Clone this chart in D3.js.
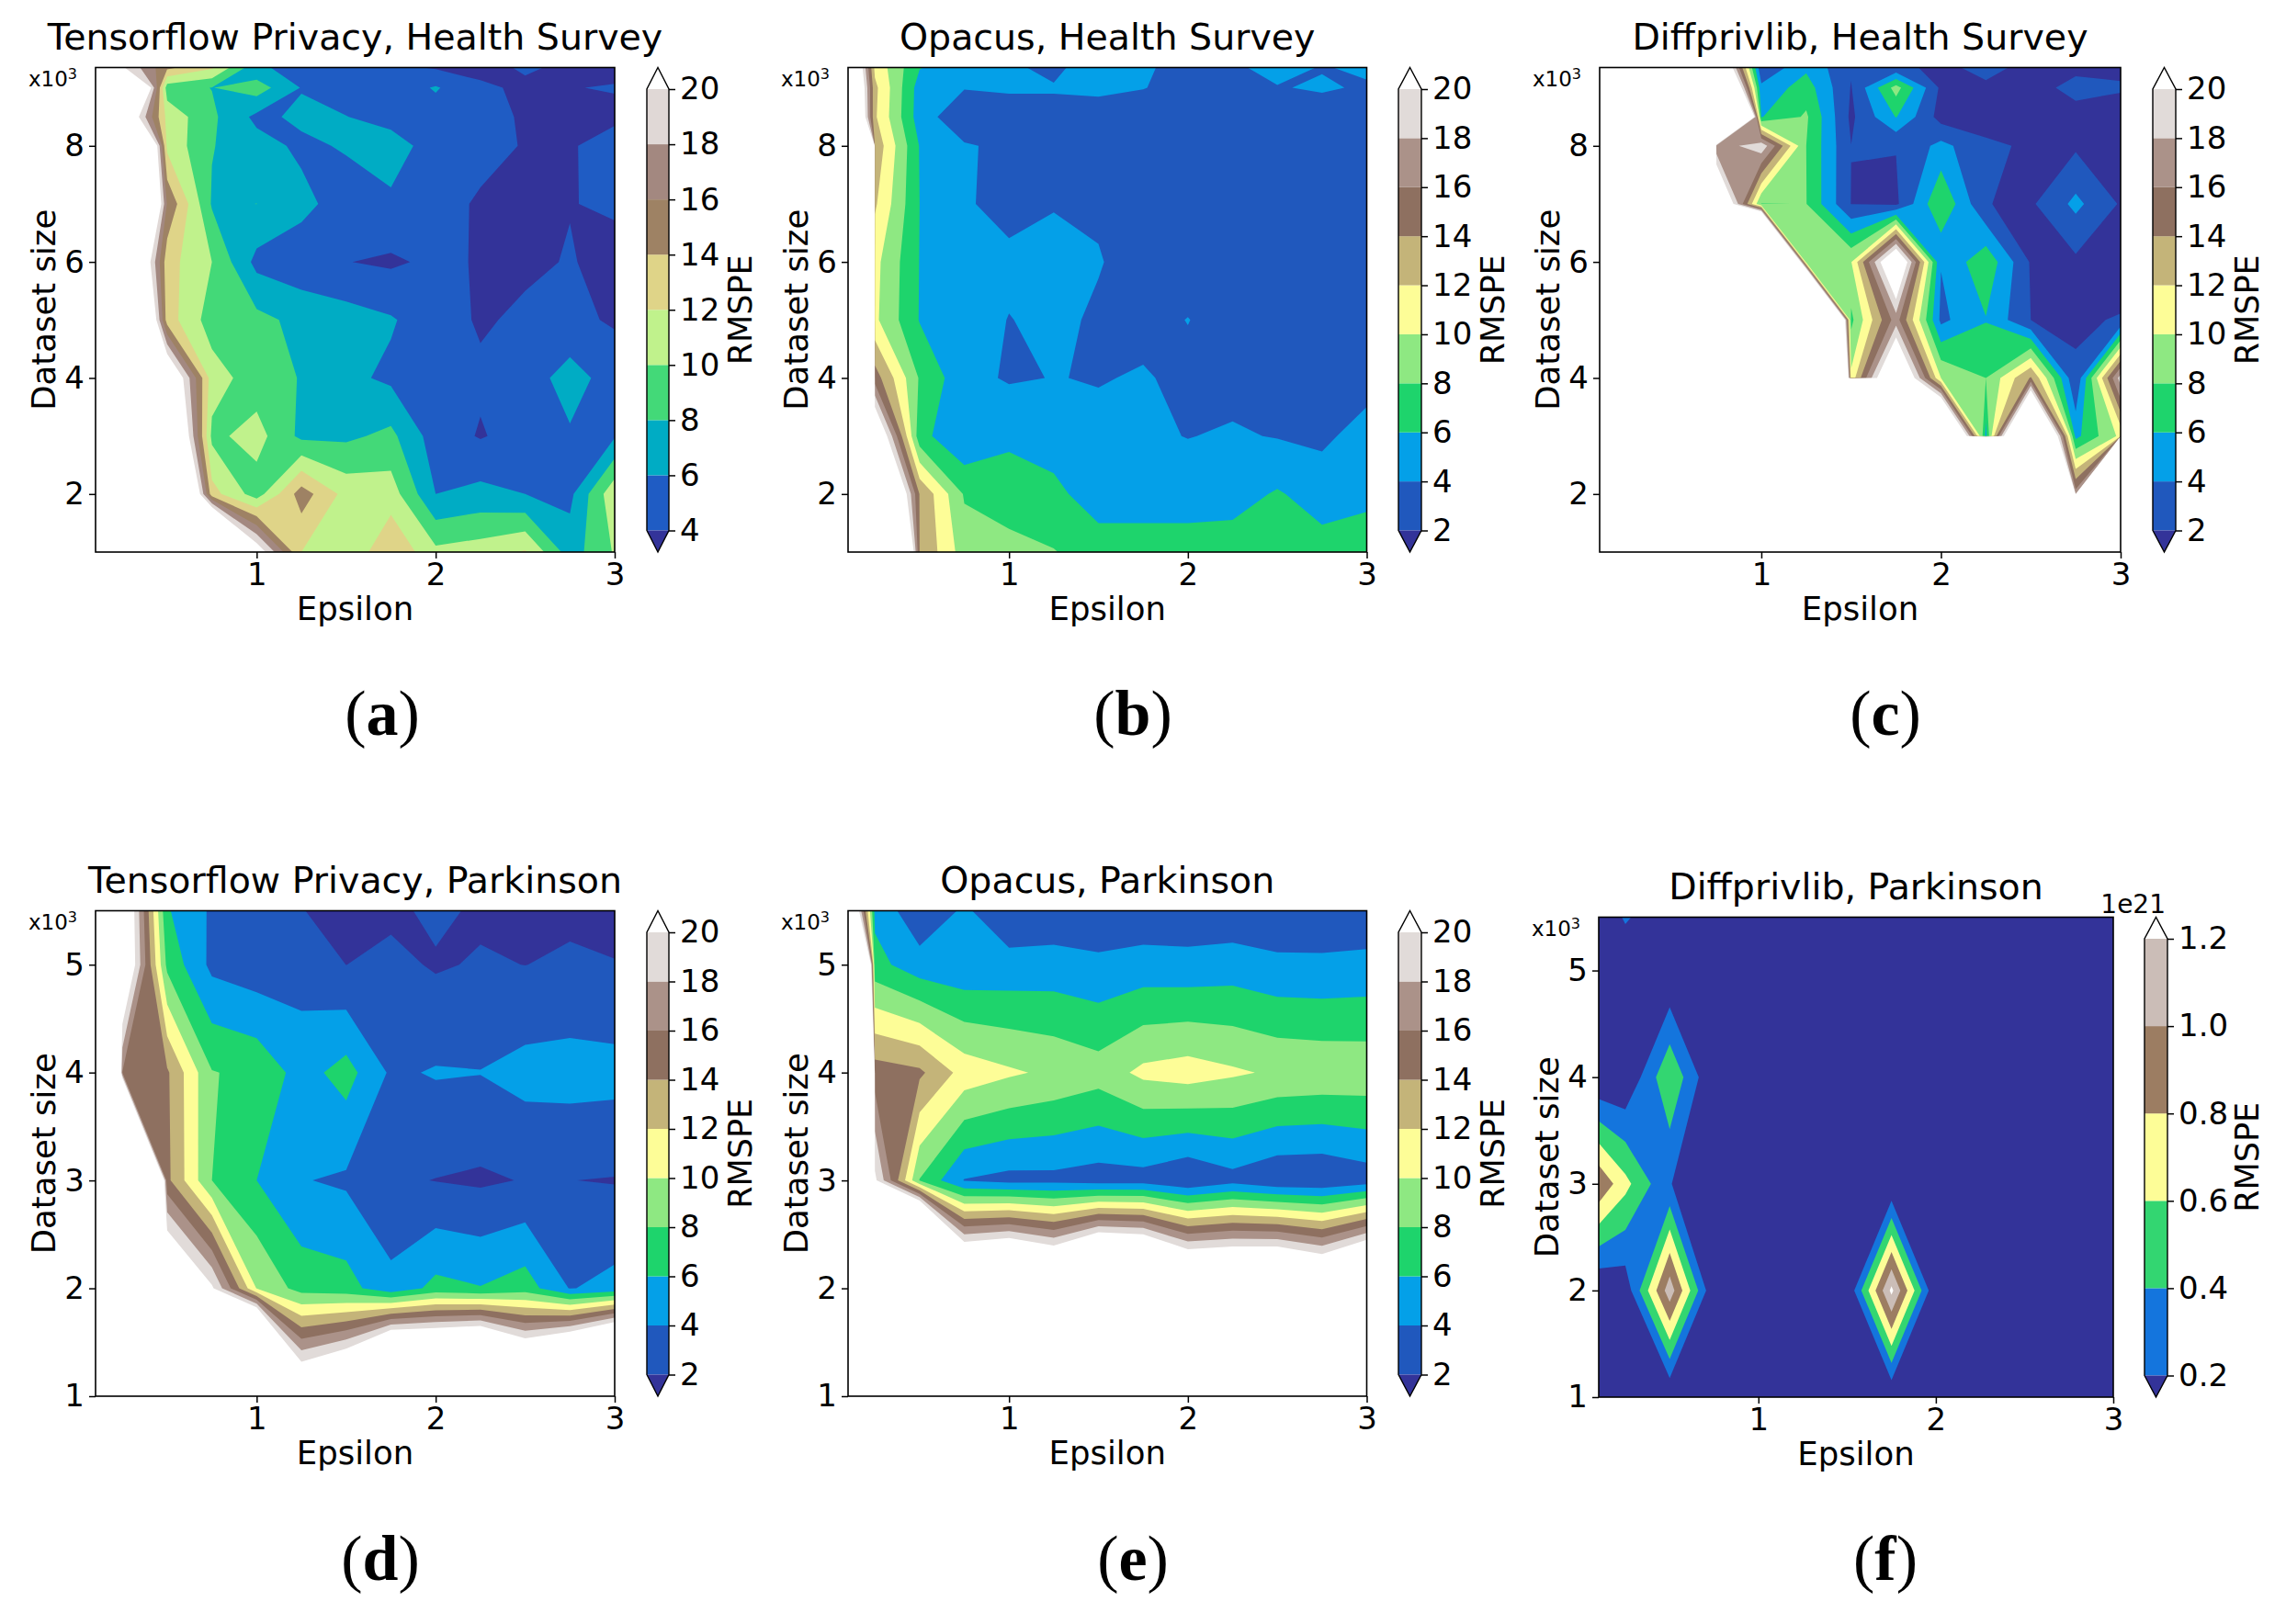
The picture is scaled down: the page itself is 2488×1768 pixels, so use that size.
<!DOCTYPE html>
<html>
<head>
<meta charset="utf-8">
<script src="https://cdn.jsdelivr.net/npm/d3@7"></script>
<style>
  html, body { margin: 0; padding: 0; background: #fff; }
  text { font-family: "DejaVu Sans", sans-serif; fill: #000; }
</style>
</head>
<body>
<svg id="chart" width="2488" height="1768"></svg>
<script>
// Grid of the runs: columns are epsilon, rows are dataset size (x1000), smallest size first
var epsilons = [0.1, 0.25, 0.5, 0.75, 1, 1.25, 1.5, 1.75, 2, 2.25, 2.5, 2.75, 3];
var healthSizes = [1, 2, 3, 4, 5, 6, 7, 8, 8.5, 9, 9.35];
var parkinsonSizes = [1, 2, 3, 4, 5, 5.5];

// runs that blew up, far above the top level
var H = 1000;

var tfHealth = [
  [60,60,60,45,22,12,10.2,13.8,10.5,11,12.2,7,10.2],
  [60,60,40,12.8,9,15,11.3,11,6,6.6,6,5.5,11.5],
  [60,60,30,9.5,10.8,7.5,7.6,8.5,5,3.85,4.8,5.75,5.8],
  [60,60,25,11,8.9,7.9,6.5,5.6,4.8,4.3,4.9,6.9,5],
  [60,42,13,9,8.6,7.4,6.9,6.2,4.8,3.8,4.3,4.4,3.8],
  [60,32,12.8,10,5.4,4.7,4.05,3.7,4.4,3.85,3.7,4.1,3.5],
  [60,48,15.8,7.8,8.01,6.6,5,5.6,4.6,3.8,3.6,3.95,4.2],
  [60,50,11.5,8.1,6.8,5.6,6.2,7,5,4.5,3.9,3.8,4.9],
  [60,25,11.4,8.4,5.5,6.4,6.05,5.2,5,4.6,3.8,3.6,3.6],
  [60,40,8.9,7.95,9,5.9,5,4.7,6.2,4.3,3.7,3.95,4.1],
  [30,20.3,14.5,12.3,6.5,4.9,4.6,4.5,3.8,3.5,4.2,3.7,3.6]
];
var opacusHealth = [
  [H,60,14,9,8.8,8.1,7,6.9,7,7,7,6.8,6.9],
  [H,35,13.9,7.8,6.8,6.5,5,5.1,5,5.2,6.2,5.1,5.6],
  [H,25,6.7,4.2,5.7,5.1,4.5,4.3,3.95,4.2,3.9,3.6,4.8],
  [H,15,7.8,4.6,3.8,4.05,3.9,4.15,3.6,3.4,3.4,3.3,3.2],
  [H,10.4,5.9,4.8,3.95,4.4,3.75,3.5,4.04,3.3,3.2,3.1,3],
  [H,10.6,5.95,4.9,4.4,4.7,4.1,3.3,3.2,3.1,3,3,3],
  [H,12.3,6,4.2,3.42,3.88,3.78,3.3,3.2,3.1,3,3,3],
  [H,13.5,5.9,4.2,3.57,3.4,3.2,3.1,3.1,3.1,3,3,3],
  [34,12.3,5,2.5,3.2,3.2,3.1,3.1,3,3,3,3,3],
  [32,12.5,5.1,4.1,4.2,4.2,4.4,4.05,3.5,3.7,3.9,4.2,3.8],
  [30,11.5,6.1,4.8,4.4,3.4,5.5,4.2,3.5,3.7,4.6,3.9,4.3]
];
var diffHealth = [
  [H,H,H,H,H,H,H,H,H,H,H,H,H],
  [H,H,H,H,H,H,H,H,H,H,H,17,H],
  [H,H,H,H,H,H,H,H,40,5.4,42,5.4,10.5],
  [H,H,H,99,99,165,10.5,27,10,8,14.2,2.1,19],
  [H,H,H,99,99,99,7.5,17,3.5,5.9,2,1.9,2.05],
  [H,H,H,99,99,9,9.9,25.4,4.1,7.5,1.8,1.6,1.6],
  [H,H,H,27.4,7.9,8.05,1.95,1.6,7.9,2.05,1.7,4.5,1.8],
  [H,H,H,16.5,19.5,8,2.02,2.08,4.6,2.4,1.7,1.7,1.8],
  [H,H,H,99,5.9,8.3,1.6,6.1,1.2,1,1.5,1.5,1.5],
  [H,H,H,40,4.5,7,1.9,8.8,1.6,1.7,1.5,2.4,2.1],
  [H,H,H,30,2.2,5.6,2.2,2.4,1.6,2.5,1.5,1.7,1.8]
];
var tfParkinson = [
  [99,99,99,99,67,26,30.4,44.6,43,46,35,44,54],
  [99,99,26.4,20.4,9.9,7.2,6.8,4.6,6.6,6.1,7,3.9,4.6],
  [99,99,14.5,8,6,4.1,3.7,2.3,1.95,1.7,2.1,2.02,1.9],
  [99,15.9,14.3,8.1,7.5,5.2,6.8,3.7,4.15,4.05,4.7,4.8,4.7],
  [99,25,7.5,3.5,2.8,3.1,1.99,2.5,1.8,2.18,1.98,2.3,2.05],
  [99,25,6.2,3.7,3.1,2.05,1.5,1.6,2.4,1.7,1.6,1.6,1.6]
];
var opacusParkinson = [
  [H,99,99,99,99,99,99,99,99,99,99,99,99],
  [H,99,73,32.2,34.6,30.9,38.3,37,30.2,30.6,31.2,28.3,33.9],
  [H,20.5,7.9,3.9,3.35,3.42,3.04,3.1,2.07,3.26,2.26,2.18,2.94],
  [H,15,14.4,11.2,10.3,9.6,8.88,10.49,10.95,10.3,9.7,9.5,9.4],
  [99,6.7,4.8,4.4,4.64,4.82,4.42,4.82,4.7,4.97,4.42,4.39,4.57],
  [30,5.5,2.5,4.3,2.6,2.6,2.6,2.6,2.6,2.6,2.6,2.6,2.6]
];
// this one is in units of 1e21
var diffParkinson = [
  [0,0,0,0,0,0,0,0,0,0,0,0,0],
  [0,0.06,1.12,0,0,0,0,1.25,0,0,0,0,0],
  [0.97,0.66,0.21,0,0,0,0,0,0,0,0,0,0],
  [0,0,0.58,0,0,0,0,0,0,0,0,0,0],
  [0,0,0,0,0,0,0,0,0,0,0,0,0],
  [0,0.23,0,0,0,0,0,0,0,0,0,0,0]
];

// contour levels and the band colours (first = below lowest level, last = above top level)
var levels4to20 = [4, 6, 8, 10, 12, 14, 16, 18, 20];
var levels2to20 = [2, 4, 6, 8, 10, 12, 14, 16, 18, 20];
var levelsE21 = [0.2, 0.4, 0.6, 0.8, 1.0, 1.2];

var colors4to20 = ["#333399", "#1f5cc4", "#00acc4", "#43d978", "#c0f28c", "#dfd488", "#9e8264", "#a38880", "#e0d8d6", "#ffffff"];
var colors2to20 = ["#333399", "#2058bd", "#04a0e8", "#1ed46c", "#8ee882", "#fdfd97", "#c4b479", "#8e7060", "#ab9289", "#e1dbd9", "#ffffff"];
var colorsE21 = ["#333399", "#1475dd", "#33d671", "#fdfd97", "#9c7d62", "#cbbdb7", "#ffffff"];

var panels = [
  { title: "Tensorflow Privacy, Health Survey", tag: "a", grid: tfHealth, sizes: healthSizes, sizeTicks: [2, 4, 6, 8],
    levels: levels4to20, colors: colors4to20, px: [104, 669], py: [73.5, 601], cb: [704, 728], tagX: 416, tagY: 800 },
  { title: "Opacus, Health Survey", tag: "b", grid: opacusHealth, sizes: healthSizes, sizeTicks: [2, 4, 6, 8],
    levels: levels2to20, colors: colors2to20, px: [923, 1487.5], py: [73.5, 601], cb: [1522, 1547], tagX: 1233, tagY: 800 },
  { title: "Diffprivlib, Health Survey", tag: "c", grid: diffHealth, sizes: healthSizes, sizeTicks: [2, 4, 6, 8],
    levels: levels2to20, colors: colors2to20, px: [1741, 2308], py: [73.5, 601], cb: [2343, 2368], tagX: 2052, tagY: 800 },
  { title: "Tensorflow Privacy, Parkinson", tag: "d", grid: tfParkinson, sizes: parkinsonSizes, sizeTicks: [1, 2, 3, 4, 5],
    levels: levels2to20, colors: colors2to20, px: [104, 669], py: [991.5, 1520], cb: [704, 728], tagX: 414, tagY: 1720 },
  { title: "Opacus, Parkinson", tag: "e", grid: opacusParkinson, sizes: parkinsonSizes, sizeTicks: [1, 2, 3, 4, 5],
    levels: levels2to20, colors: colors2to20, px: [923, 1487.5], py: [991.5, 1520], cb: [1522, 1547], tagX: 1233, tagY: 1720 },
  { title: "Diffprivlib, Parkinson", tag: "f", grid: diffParkinson, sizes: parkinsonSizes, sizeTicks: [1, 2, 3, 4, 5],
    levels: levelsE21, colors: colorsE21, px: [1740, 2300], py: [998.5, 1521], cb: [2334, 2359], tagX: 2052, tagY: 1720, offset: "1e21" }
];

var svg = d3.select("#chart");

panels.forEach(function(p, i) {
  var x = d3.scaleLinear().domain([0.1, 3]).range(p.px);
  var y = d3.scaleLinear().domain([1, d3.max(p.sizes)]).range([p.py[1], p.py[0]]);

  var g = svg.append("g");

  g.append("clipPath").attr("id", "clip" + i)
    .append("rect")
    .attr("x", p.px[0]).attr("y", p.py[0])
    .attr("width", p.px[1] - p.px[0]).attr("height", p.py[1] - p.py[0]);

  // d3.contours works in cell units, grid value k sits at k + 0.5, so map that back to epsilon / size
  var colIndex = d3.scaleLinear().domain(epsilons.map(function(d, k) { return k + 0.5; })).range(epsilons);
  var rowIndex = d3.scaleLinear().domain(p.sizes.map(function(d, k) { return k + 0.5; })).range(p.sizes);

  var path = d3.geoPath(d3.geoTransform({
    point: function(cx, cy) { this.stream.point(x(colIndex(cx)), y(rowIndex(cy))); }
  }));

  var flat = [].concat.apply([], p.grid);
  var thresholds = [-1e6].concat(p.levels);
  var contours = d3.contours()
    .size([epsilons.length, p.sizes.length])
    .thresholds(thresholds)
    .smooth(true)(flat);

  // nested filled regions, lowest first
  g.append("g").attr("clip-path", "url(#clip" + i + ")")
    .selectAll("path")
    .data(contours)
    .enter().append("path")
    .attr("d", path)
    .attr("fill", function(d, k) { return p.colors[k]; });

  // axes
  var xAxis = d3.axisBottom(x).tickValues([1, 2, 3]).tickFormat(d3.format("d")).tickSize(7).tickPadding(5);
  var yAxis = d3.axisLeft(y).tickValues(p.sizeTicks).tickFormat(d3.format("d")).tickSize(7).tickPadding(5);

  var ax = g.append("g").attr("transform", "translate(0," + p.py[1] + ")").call(xAxis);
  var ay = g.append("g").attr("transform", "translate(" + p.px[0] + ",0)").call(yAxis);
  [ax, ay].forEach(function(a) {
    a.select(".domain").remove();
    a.selectAll("line").attr("stroke", "#000").attr("stroke-width", 1.5);
    a.selectAll("text").attr("font-size", 34);
  });

  g.append("rect")
    .attr("x", p.px[0]).attr("y", p.py[0])
    .attr("width", p.px[1] - p.px[0]).attr("height", p.py[1] - p.py[0])
    .attr("fill", "none").attr("stroke", "#000").attr("stroke-width", 1.6);

  var midX = (p.px[0] + p.px[1]) / 2;
  var midY = (p.py[0] + p.py[1]) / 2;

  g.append("text").attr("x", midX).attr("y", p.py[0] - 20)
    .attr("text-anchor", "middle").attr("font-size", 39.5).text(p.title);

  g.append("text").attr("x", midX).attr("y", p.py[1] + 74)
    .attr("text-anchor", "middle").attr("font-size", 35.5).text("Epsilon");

  g.append("text")
    .attr("transform", "translate(" + (p.px[0] - 44) + "," + midY + ") rotate(-90)")
    .attr("text-anchor", "middle").attr("font-size", 35.5).text("Dataset size");

  var mult = g.append("text").attr("x", p.px[0] - 20).attr("y", p.py[0] + 20)
    .attr("text-anchor", "end").attr("font-size", 23).text("x10");
  mult.append("tspan").attr("dy", -8).attr("font-size", 16).text("3");

  // colorbar, equal height bands with pointed ends
  var cbTop = p.py[0], cbBottom = p.py[1];
  var tip = 23.5;
  var cy = d3.scalePoint().domain(p.levels).range([cbBottom - tip, cbTop + tip]);
  var cbG = g.append("g");

  p.levels.slice(1).forEach(function(lev, k) {
    cbG.append("rect")
      .attr("x", p.cb[0]).attr("width", p.cb[1] - p.cb[0])
      .attr("y", cy(lev)).attr("height", cy(p.levels[k]) - cy(lev))
      .attr("fill", p.colors[k + 1]);
  });
  var cbMid = (p.cb[0] + p.cb[1]) / 2;
  cbG.append("path")
    .attr("d", d3.line()([[p.cb[0], cbBottom - tip], [cbMid, cbBottom], [p.cb[1], cbBottom - tip]]) + "Z")
    .attr("fill", p.colors[0]);
  cbG.append("path")
    .attr("d", d3.line()([[p.cb[0], cbTop + tip], [cbMid, cbTop], [p.cb[1], cbTop + tip]]) + "Z")
    .attr("fill", p.colors[p.colors.length - 1]);
  cbG.append("path")
    .attr("d", d3.line()([
      [p.cb[0], cbBottom - tip], [cbMid, cbBottom], [p.cb[1], cbBottom - tip],
      [p.cb[1], cbTop + tip], [cbMid, cbTop], [p.cb[0], cbTop + tip]
    ]) + "Z")
    .attr("fill", "none").attr("stroke", "#000").attr("stroke-width", 1.4);

  var cbAxis = d3.axisRight(cy).tickSize(7).tickPadding(5)
    .tickFormat(p.offset ? d3.format(".1f") : d3.format("d"));
  var ac = g.append("g").attr("transform", "translate(" + p.cb[1] + ",0)").call(cbAxis);
  ac.select(".domain").remove();
  ac.selectAll("line").attr("stroke", "#000").attr("stroke-width", 1.5);
  ac.selectAll("text").attr("font-size", 34);

  g.append("text")
    .attr("transform", "translate(" + (p.cb[1] + (p.offset ? 99 : 90)) + "," + midY + ") rotate(-90)")
    .attr("text-anchor", "middle").attr("font-size", 35).text("RMSPE");

  if (p.offset) {
    g.append("text").attr("x", p.cb[1] - 2).attr("y", p.py[0] - 5)
      .attr("text-anchor", "end").attr("font-size", 28).text(p.offset);
  }

  // subfigure tag
  var tag = g.append("text").attr("x", p.tagX).attr("y", p.tagY)
    .attr("text-anchor", "middle").attr("font-size", 70)
    .style("font-family", "'Liberation Serif', serif");
  tag.append("tspan").text("(");
  tag.append("tspan").attr("font-weight", "bold").text(p.tag);
  tag.append("tspan").text(")");
});
</script>
</body>
</html>
